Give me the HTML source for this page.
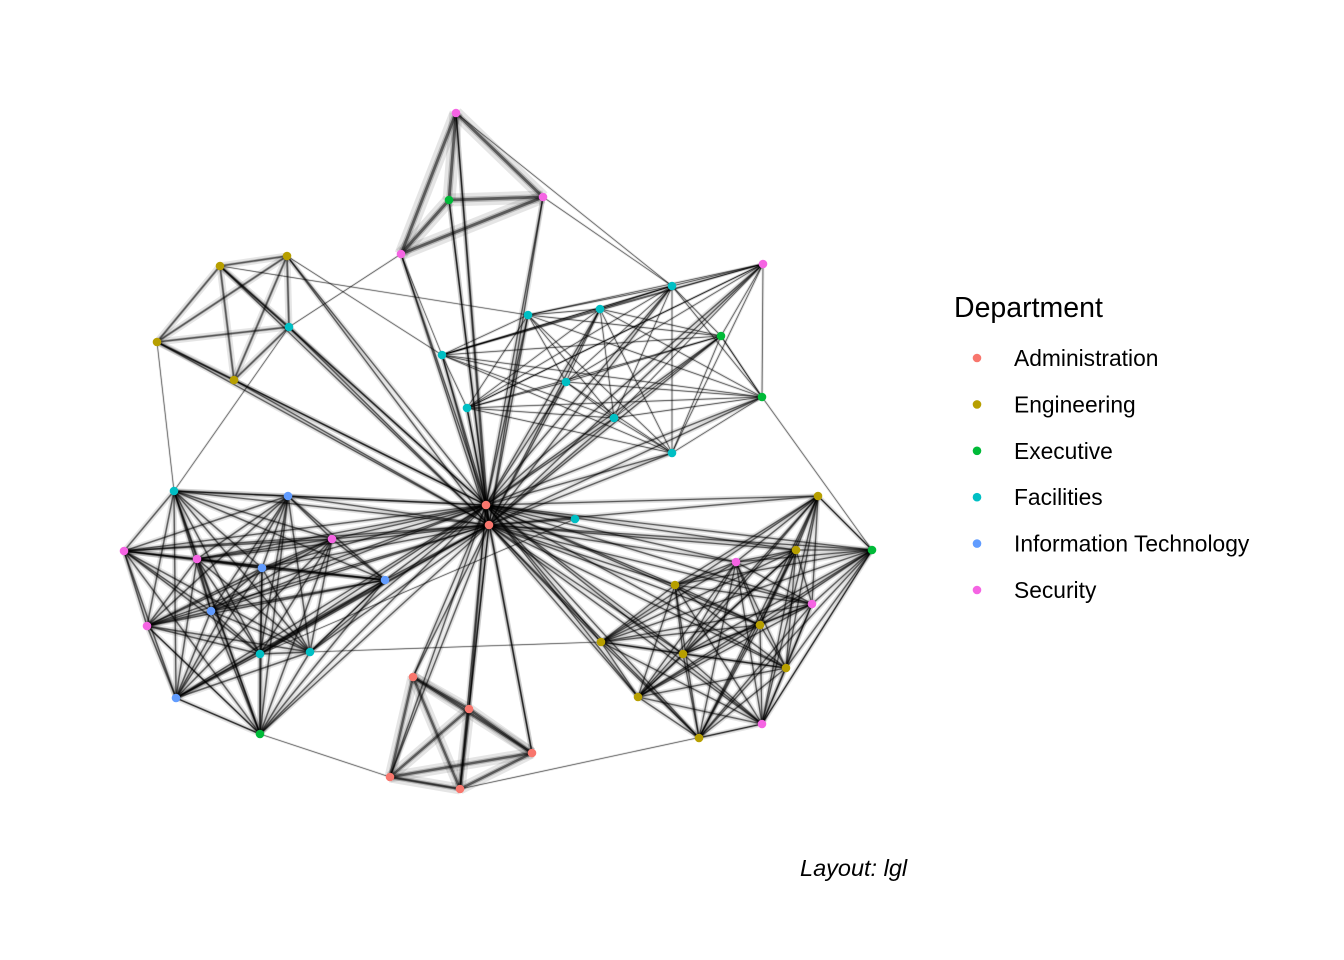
<!DOCTYPE html>
<html><head><meta charset="utf-8"><style>
body{margin:0;background:#fff;width:1344px;height:960px;overflow:hidden}
svg{display:block}
text{font-family:"Liberation Sans",Arial,sans-serif}
</style></head><body>
<svg id="chart" width="1344" height="960">
<g id="edges"></g>
<g id="nodes"></g>
<g>
<text x="954" y="317" font-size="28.5" fill="#000">Department</text>
<g id="legend-items"></g>
</g>
<text x="800" y="876" font-size="23.5" font-style="italic" fill="#000">Layout: lgl</text>
</svg>
<script>
const departments = ["Administration","Engineering","Executive","Facilities","Information Technology","Security"];
const deptColors = ["#F8766D","#B79F00","#00BA38","#00BFC4","#619CFF","#F564E3"];
const nodeX = [456,449,543,401,220,287,157,234,289,763,672,600,528,442,721,566,467,614,762,672,486,489,575,174,288,124,197,332,262,385,211,147,260,310,176,260,413,469,532,390,460,818,872,796,736,675,812,760,601,683,786,638,699,762];
const nodeY = [113,200,197,254,266,256,342,380,327,264,286,309,315,355,336,382,408,418,397,453,505,525,519,491,496,551,559,539,568,580,611,626,654,652,698,734,677,709,753,777,789,496,550,550,562,585,604,625,642,654,668,697,738,724];
const nodeDept = [5,2,5,5,1,1,1,1,3,5,3,3,3,3,2,3,3,3,2,3,0,0,3,3,4,5,5,5,4,4,4,5,3,3,4,2,0,0,0,0,0,1,2,1,5,1,5,1,1,1,1,1,1,5];
const groups = [[0,1,2,3],[4,5,6,7,8],[9,10,11,12,13,14,15,16,17,18,19],[23,24,25,26,27,28,29,30,31,32,33,34,35],[36,37,38,39,40],[41,42,43,44,45,46,47,48,49,50,51,52,53]];
const groupWeights = [2.6,1.4,0.6,1.1,2.2,1.0];
const hubs = [20,21];
const crossEdges = [[0,10],[2,10],[14,18],[18,42],[42,53],[40,53],[39,40],[35,39],[34,35],[3,8],[4,12],[6,23],[23,8],[32,22],[29,33],[13,10],[9,16],[33,48],[31,35],[41,42],[20,21],[3,13],[5,13]];

const X = i => nodeX[i], Y = i => nodeY[i];
const eg = document.getElementById('edges');
function edge(a,b,w){
  const mk=(sw,op)=>{const l=document.createElementNS('http://www.w3.org/2000/svg','line');
    l.setAttribute('x1',X(a));l.setAttribute('y1',Y(a));l.setAttribute('x2',X(b));l.setAttribute('y2',Y(b));
    l.setAttribute('stroke','#000');l.setAttribute('stroke-width',sw);l.setAttribute('stroke-opacity',op);
    
    
    eg.appendChild(l);};
  mk(5*w,0.1);mk(2.2*w,0.2);mk(1.1*w,0.5);
}
groups.forEach((g,k)=>{for(let i=0;i<g.length;i++)for(let j=i+1;j<g.length;j++)edge(g[i],g[j],groupWeights[k]);});
hubs.forEach(h=>{for(let i=0;i<nodeX.length;i++)if(hubs.indexOf(i)<0)edge(h,i,1.0);});
crossEdges.forEach(e=>edge(e[0],e[1],0.5));
const ng=document.getElementById('nodes');
for(let i=0;i<nodeX.length;i++){
  const c=document.createElementNS('http://www.w3.org/2000/svg','circle');
  c.setAttribute('cx',X(i));c.setAttribute('cy',Y(i));c.setAttribute('r',4.3);c.setAttribute('fill',deptColors[nodeDept[i]]);
  
  
  ng.appendChild(c);
}
const lg=document.getElementById('legend-items');
departments.forEach((d,i)=>{
  const y=358+i*46.4;
  const c=document.createElementNS('http://www.w3.org/2000/svg','circle');
  c.setAttribute('cx',977);c.setAttribute('cy',y);c.setAttribute('r',4.3);c.setAttribute('fill',deptColors[i]);
  
  
  lg.appendChild(c);
  const t=document.createElementNS('http://www.w3.org/2000/svg','text');
  t.setAttribute('x',1014);t.setAttribute('y',y+8);t.setAttribute('font-size','22.8');t.textContent=d;
  
  
  lg.appendChild(t);
});
</script>
</body></html>
